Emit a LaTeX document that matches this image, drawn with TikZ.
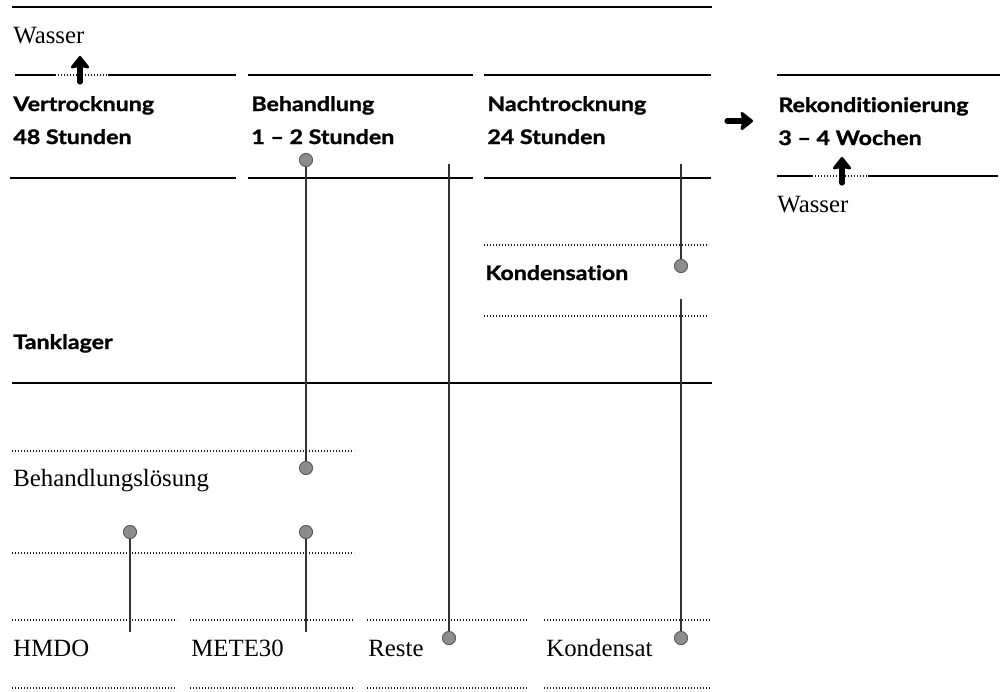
\documentclass[tikz,border=0pt]{standalone}
\usepackage{fontspec}
\setmainfont{Liberation Serif}
\newfontfamily\hfont{Lato}[Ligatures=NoCommon,FakeStretch=1.16,BoldFeatures={FakeBold=1.3}]
\usetikzlibrary{arrows.meta}
\definecolor{dotgray}{HTML}{8C8C8C}
\tikzset{
  solidline/.style={line width=1pt,black},
  dotline/.style={line width=0.6pt,black!90,dash pattern=on 0.6pt off 0.9pt},
  stem/.style={line width=0.65pt,black!80},
  knob/.style={circle,fill=dotgray,draw=black!65,line width=0.45pt,minimum size=6.6pt,inner sep=0pt},
  bigarrow/.style={line width=2.6pt,black,line cap=round,-{Stealth[width=11pt,length=7pt,inset=1.2pt,round]}},
  serif/.style={anchor=base west,inner sep=0pt,font=\fontsize{12.4}{14}\selectfont},
  head/.style={anchor=base west,inner sep=0pt,font=\hfont\bfseries\fontsize{10}{12}\selectfont},
}
\begin{document}
\begin{tikzpicture}[x=0.5pt,y=-0.5pt]
\useasboundingbox (0,0) rectangle (1000,691);
% top rule
\draw[solidline] (12,7) -- (712,7);
\node[serif] (wasserA) at (13,43) {Wasser};
% upper rules
\draw[solidline] (15,75) -- (55,75);
\draw[dotline] (55,75) -- (108,75);
\draw[solidline] (108,75) -- (236,75);
\draw[solidline] (248,75) -- (473,75);
\draw[solidline] (484,75) -- (711,75);
\draw[solidline] (777,75) -- (1000,75);
\coordinate (upAs) at (80,82);
\coordinate (upAe) at (80,56);
\draw[bigarrow] (upAs) -- (upAe);
% headings
\node[head] (vert) at (13,111) {Vertrocknung};
\node[head] (vertt) at (13,144) {48 Stunden};
\node[head] (beh) at (251,111) {Behandlung};
\node[head] (beht) at (251,144) {1 – 2 Stunden};
\node[head] (nach) at (487,111) {Nachtrocknung};
\node[head] (nacht) at (487,144) {24 Stunden};
\node[head] (rek) at (778,112) {Rekonditionierung};
\node[head] (rekt) at (778,145) {3 – 4 Wochen};
\coordinate (rAs) at (727,121);
\coordinate (rAe) at (753,121);
\draw[bigarrow] (rAs) -- (rAe);
% lower rules of header
\draw[solidline] (10,178) -- (236,178);
\draw[solidline] (248,178) -- (473,178);
\draw[solidline] (484,178) -- (711,178);
\draw[solidline] (777,176) -- (812,176);
\draw[dotline] (812,176) -- (868,176);
\draw[solidline] (868,176) -- (998,176);
\coordinate (upBs) at (842,183);
\coordinate (upBe) at (842,157);
\draw[bigarrow] (upBs) -- (upBe);
\node[serif] (wasserB) at (777,212) {Wasser};
% Kondensation block
\draw[dotline] (484,245) -- (707,245);
\node[head] (kond) at (485,280) {Kondensation};
\draw[dotline] (484,316) -- (707,316);
% Tanklager
\node[head] (tank) at (13,349) {Tanklager};
\draw[solidline] (12,383) -- (712,383);
% Behandlungsloesung
\draw[dotline] (12,451) -- (354,451);
\node[serif] (bl) at (13,486) {Behandlungslösung};
\draw[dotline] (12,553) -- (354,553);
% bottom rows
\foreach \a/\b in {12/177,190/354,367/528,544/710}{
  \draw[dotline] (\a,620) -- (\b,620);
  \draw[dotline] (\a,688) -- (\b,688);
}
\node[serif] (hmdo) at (13,656) {HMDO};
\node[serif] (mete) at (191,656) {METE30};
\node[serif] (reste) at (368,656) {Reste};
\node[serif] (kondsat) at (546,656) {Kondensat};
% stems and knobs
\coordinate (s4top) at (449,164);
\coordinate (s6top) at (681,164);
\coordinate (s7top) at (681,299);
\coordinate (s3bot) at (306,632);
\coordinate (s8bot) at (130,632);
\node[knob] (k1) at (306,160) {};
\node[knob] (k2) at (306,468) {};
\node[knob] (k3) at (306,532) {};
\node[knob] (k8) at (130,532) {};
\node[knob] (k5) at (449,638) {};
\node[knob] (k6) at (681,266) {};
\node[knob] (k7) at (681,638) {};
\draw[stem] (k1) -- (k2);
\draw[stem] (k3) -- (s3bot);
\draw[stem] (k8) -- (s8bot);
\draw[stem] (s4top) -- (k5);
\draw[stem] (s6top) -- (k6);
\draw[stem] (s7top) -- (k7);
\end{tikzpicture}
\end{document}
